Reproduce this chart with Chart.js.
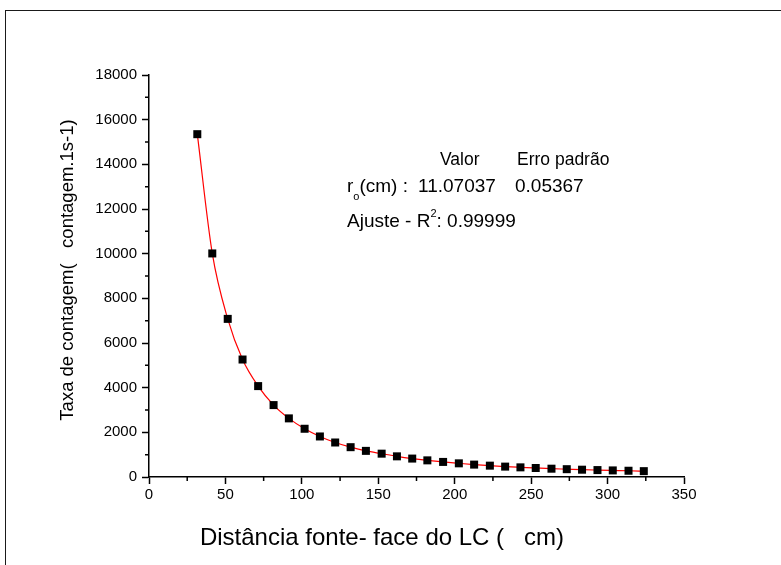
<!DOCTYPE html>
<html><head><meta charset="utf-8">
<script src="https://cdn.jsdelivr.net/npm/chart.js@4/dist/chart.umd.min.js"></script>
<style>
html,body{margin:0;padding:0;background:#fff;}
#wrap{position:relative;width:781px;height:565px;overflow:hidden;background:#fff;}
#frame{position:absolute;left:5px;top:10px;width:900px;height:700px;border-left:1px solid #1a1a1a;border-top:1px solid #1a1a1a;}
canvas{position:absolute;left:0;top:0;}
</style></head><body>
<div id="wrap"><div id="frame"></div><canvas id="c" width="781" height="565"></canvas></div>
<script>
// ---- data ----
const distances = [31.6, 41.4, 51.5, 61.2, 71.4, 81.5, 91.5, 101.8, 111.8, 121.8, 131.9, 141.9, 152.2, 162.2, 172.2, 182.1, 192.4, 202.7, 212.7, 223.0, 233.0, 243.0, 253.0, 263.3, 273.3, 283.3, 293.4, 303.4, 313.7, 323.7];
const countRates = [15350, 10010, 7080, 5260, 4070, 3220, 2625, 2160, 1815, 1545, 1335, 1170, 1045, 925, 825, 745, 675, 612, 555, 508, 465, 432, 402, 372, 350, 327, 310, 295, 280, 262];
const xTickValues = [0, 50, 100, 150, 200, 250, 300, 350];
const yTickValues = [0, 2000, 4000, 6000, 8000, 10000, 12000, 14000, 16000, 18000];
const xMinorTicks = [25, 75, 125, 175, 225, 275, 325];
const yMinorTicks = [1000, 3000, 5000, 7000, 9000, 11000, 13000, 15000, 17000];
const xTitle = 'Distância fonte- face do LC (   cm)';
const yTitle = 'Taxa de contagem(   contagem.1s-1)';
const headerLabels = ['Valor', 'Erro padrão'];
const fitParam = {name: 'r', sub: 'o', unit: '(cm) :', value: '11.07037', error: '0.05367'};
const fitR2 = {prefix: 'Ajuste - R', sup: '2', value: ': 0.99999'};

const FONT = '"Liberation Sans", Arial, sans-serif';
const points = distances.map((d, i) => ({x: d, y: countRates[i]}));

const decorPlugin = {
  id: 'decor',
  afterDraw(chart) {
    const ctx = chart.ctx;
    const xs = chart.scales.x, ys = chart.scales.y;
    ctx.save();
    ctx.strokeStyle = '#000';
    ctx.lineWidth = 1.5;
    ctx.beginPath();
    xMinorTicks.forEach(v => {
      const px = xs.getPixelForValue(v);
      ctx.moveTo(px, xs.top); ctx.lineTo(px, xs.top + 4);
    });
    yMinorTicks.forEach(v => {
      const py = ys.getPixelForValue(v);
      ctx.moveTo(ys.right, py); ctx.lineTo(ys.right - 4, py);
    });
    ctx.stroke();

    ctx.fillStyle = '#000';
    // axis titles
    ctx.textAlign = 'center';
    ctx.textBaseline = 'middle';
    ctx.font = '24px ' + FONT;
    ctx.fillText(xTitle, 382, 538);
    ctx.save();
    ctx.translate(68, 270);
    ctx.rotate(-Math.PI / 2);
    ctx.font = '18.5px ' + FONT;
    ctx.fillText(yTitle, 0, 0);
    ctx.restore();

    // fit annotation
    ctx.textAlign = 'left';
    ctx.textBaseline = 'alphabetic';
    ctx.font = '17.5px ' + FONT;
    ctx.fillText(headerLabels[0], 440, 165);
    ctx.fillText(headerLabels[1], 517, 165);

    let x = 347;
    ctx.font = '19px ' + FONT;
    ctx.fillText(fitParam.name, x, 192);
    x += ctx.measureText(fitParam.name).width;
    ctx.font = '11px ' + FONT;
    ctx.fillText(fitParam.sub, x, 200);
    x += ctx.measureText(fitParam.sub).width;
    ctx.font = '19px ' + FONT;
    ctx.fillText(fitParam.unit, x, 192);
    ctx.fillText(fitParam.value, 418, 192);
    ctx.fillText(fitParam.error, 515, 192);

    x = 347;
    ctx.font = '19px ' + FONT;
    ctx.fillText(fitR2.prefix, x, 227);
    x += ctx.measureText(fitR2.prefix).width;
    ctx.font = '11px ' + FONT;
    ctx.fillText(fitR2.sup, x, 217);
    x += ctx.measureText(fitR2.sup).width;
    ctx.font = '19px ' + FONT;
    ctx.fillText(fitR2.value, x, 227);
    ctx.restore();
  }
};

new Chart(document.getElementById('c'), {
  type: 'scatter',
  data: {
    datasets: [
      {
        label: 'dados',
        data: points,
        showLine: false,
        pointStyle: 'rect',
        pointRadius: 5.66,
        pointHoverRadius: 5.66,
        backgroundColor: '#000',
        borderColor: '#000',
        borderWidth: 0,
        order: 0
      },
      {
        label: 'ajuste',
        data: points,
        showLine: true,
        borderColor: '#ff0000',
        borderWidth: 1.2,
        pointRadius: 0,
        cubicInterpolationMode: 'monotone',
        fill: false,
        order: 1
      }
    ]
  },
  options: {
    responsive: false,
    animation: false,
    devicePixelRatio: 1,
    layout: {padding: {left: 0, right: 97, top: 75, bottom: 0}},
    plugins: {legend: {display: false}, tooltip: {enabled: false}},
    scales: {
      x: {
        type: 'linear',
        min: 0, max: 350,
        afterBuildTicks: s => { s.ticks = xTickValues.map(v => ({value: v})); },
        afterFit: s => { s.height = 88; },
        ticks: {color: '#000', font: {family: FONT, size: 15}, padding: 2, maxRotation: 0, callback: v => String(v)},
        grid: {drawOnChartArea: false, drawTicks: true, tickLength: 7, tickColor: '#000', tickWidth: 1.5},
        border: {display: true, color: '#000', width: 1.5}
      },
      y: {
        type: 'linear',
        min: 0, max: 18000,
        afterBuildTicks: s => { s.ticks = yTickValues.map(v => ({value: v})); },
        afterFit: s => { s.width = 149; },
        ticks: {color: '#000', font: {family: FONT, size: 15}, padding: 5, callback: v => String(v)},
        grid: {drawOnChartArea: false, drawTicks: true, tickLength: 7, tickColor: '#000', tickWidth: 1.5},
        border: {display: true, color: '#000', width: 1.5}
      }
    }
  },
  plugins: [decorPlugin]
});
</script>
</body></html>
